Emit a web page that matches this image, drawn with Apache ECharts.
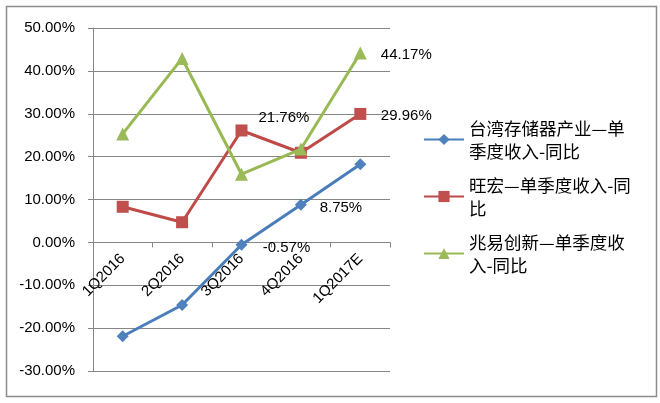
<!DOCTYPE html>
<html>
<head>
<meta charset="utf-8">
<script src="https://cdn.jsdelivr.net/npm/echarts@6/dist/echarts.min.js"></script>
<style>
html,body{margin:0;padding:0;background:#fff;}
#c{width:660px;height:403px;}
</style>
</head>
<body>
<div id="c"></div>
<script>
const categories = ['1Q2016', '2Q2016', '3Q2016', '4Q2016', '1Q2017E'];
const seriesNames = ['台湾存储器产业—单季度收入-同比', '旺宏—单季度收入-同比', '兆易创新—单季度收入-同比'];
const legendWrapped = ['台湾存储器产业—单\n季度收入-同比', '旺宏—单季度收入-同\n比', '兆易创新—单季度收\n入-同比'];
const taiwanMemory = [-21.9, -14.6, -0.57, 8.75, 18.2];
const macronix = [8.3, 4.7, 26.1, 20.9, 29.96];
const gigadevice = [25.3, 42.9, 15.9, 21.76, 44.17];
const yTicks = { min: -30, max: 50, interval: 10 };

const font = 'Liberation Sans, Arial, sans-serif';
const cjkFont = 'Noto Sans CJK SC, sans-serif';

const gridTop = 28, gridBottom = 32, chartH = 403;
const plotH = chartH - gridTop - gridBottom;
const zeroOffset = -(0 - yTicks.min) / (yTicks.max - yTicks.min) * plotH;

function withLabels(values, labelCfg) {
  return values.map(function (v, i) {
    if (!labelCfg[i]) return { value: v, label: { show: false } };
    return {
      value: v,
      label: {
        show: true, position: 'inside', offset: labelCfg[i],
        fontFamily: font, fontSize: 15, color: '#000',
        formatter: function (p) { return p.value.toFixed(2) + '%'; }
      }
    };
  });
}

const chart = echarts.init(document.getElementById('c'), null, { renderer: 'canvas' });
chart.setOption({
  backgroundColor: '#fff',
  animation: false,
  graphic: [{
    type: 'rect', left: 4, top: 4, z: -1,
    shape: { width: 650, height: 390 },
    style: { fill: 'none', stroke: '#8c8c8c', lineWidth: 1.5 }
  }],
  grid: { left: 93, right: 270, top: gridTop, bottom: gridBottom, containLabel: false, outerBoundsMode: 'none' },
  legend: {
    orient: 'vertical',
    left: 418,
    top: 100,
    itemWidth: 40,
    itemHeight: 14,
    itemGap: -12,
    data: seriesNames,
    formatter: function (name) { return legendWrapped[seriesNames.indexOf(name)]; },
    textStyle: { fontFamily: cjkFont, fontSize: 17.5, lineHeight: 23, color: '#000', padding: [23, 0, 0, 0] }
  },
  xAxis: {
    type: 'category',
    data: categories,
    boundaryGap: true,
    position: 'bottom',
    offset: zeroOffset,
    z: 0,
    axisLine: { show: true, onZero: false, lineStyle: { color: '#868686', width: 1 } },
    axisTick: { show: true, alignWithLabel: false, length: 5, inside: false, lineStyle: { color: '#868686' } },
    axisLabel: { rotate: 45, margin: 14, fontFamily: font, fontSize: 15, color: '#000' },
    splitLine: { show: false }
  },
  yAxis: {
    type: 'value',
    min: yTicks.min, max: yTicks.max, interval: yTicks.interval,
    axisLine: { show: true, lineStyle: { color: '#868686' } },
    axisTick: { show: true, length: 5, lineStyle: { color: '#868686' } },
    axisLabel: {
      fontFamily: font, fontSize: 15, color: '#000', margin: 18,
      formatter: function (v) { return v.toFixed(2) + '%'; }
    },
    splitLine: { show: true, lineStyle: { color: '#868686', width: 1 } }
  },
  series: [
    {
      name: seriesNames[0], type: 'line',
      data: withLabels(taiwanMemory, [null, null, [45, 3], [40, 3], null]),
      symbol: 'diamond', symbolSize: 12,
      lineStyle: { color: '#4A7EBB', width: 3 },
      itemStyle: { color: '#4F81BD' },
      z: 3
    },
    {
      name: seriesNames[1], type: 'line',
      data: withLabels(macronix, [null, null, null, null, [46, 2]]),
      symbol: 'rect', symbolSize: 12,
      lineStyle: { color: '#BE4B48', width: 3 },
      itemStyle: { color: '#C0504D' },
      z: 2
    },
    {
      name: seriesNames[2], type: 'line',
      data: withLabels(gigadevice, [null, null, null, [-17, -31], [46, 2]]),
      symbol: 'triangle', symbolSize: 13,
      lineStyle: { color: '#98B954', width: 3 },
      itemStyle: { color: '#9BBB59' },
      z: 4
    }
  ]
});
</script>
</body>
</html>
